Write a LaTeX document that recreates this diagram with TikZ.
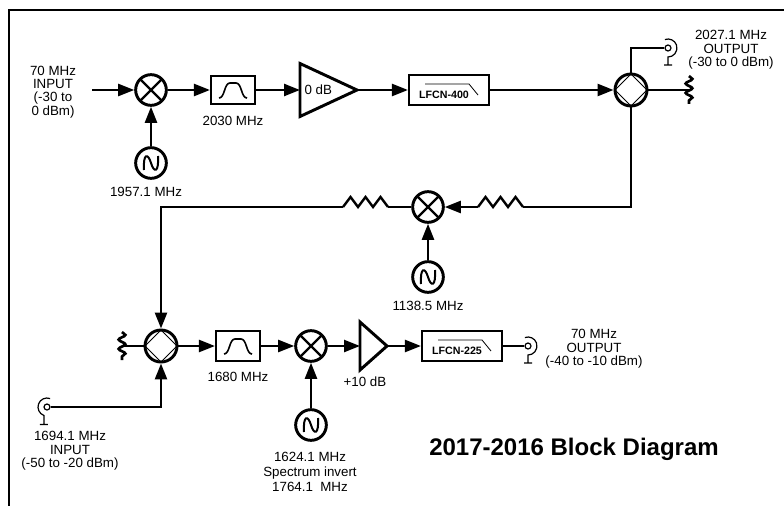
\documentclass[tikz,border=0pt]{standalone}
\usepackage{fontspec}
\setmainfont{Liberation Sans}
\usetikzlibrary{arrows.meta,shapes.geometric,decorations.pathmorphing,calc}

\tikzset{
	wire/.style={line width=1.8pt},
	sig/.style={wire, -{Triangle[length=12pt,width=9pt]}},
	mixer/.style={circle, draw, line width=2.2pt, minimum size=23pt, inner sep=0pt,
		path picture={\draw[line width=1.8pt] (path picture bounding box.north west) -- (path picture bounding box.south east)
			(path picture bounding box.north east) -- (path picture bounding box.south west);}},
	osc/.style={circle, draw, line width=2.2pt, minimum size=23pt, inner sep=0pt,
		path picture={\draw[line width=1.5pt, shift={(path picture bounding box.center)}]
			(-7,7) .. controls (-8,-10) and (-3,-10) .. (0,0) .. controls (3,10) and (8,10) .. (7,-7);}},
	combiner/.style={circle, draw, line width=2.2pt, minimum size=24pt, inner sep=0pt,
		path picture={\draw[line width=0.6pt] (path picture bounding box.north) -- (path picture bounding box.east)
			-- (path picture bounding box.south) -- (path picture bounding box.west) -- cycle;}},
	bandpass/.style={rectangle, draw, line width=1.6pt, minimum width=33pt, minimum height=21pt, inner sep=0pt,
		path picture={\draw[line width=1.2pt, shift={(path picture bounding box.center)}]
			(-14,8) .. controls (-8,8) and (-9,-7) .. (-3,-7) -- (3,-7) .. controls (9,-7) and (8,8) .. (14,8);}},
	lowpass/.style={rectangle, draw, line width=1.6pt, minimum width=60pt, minimum height=23pt, inner sep=0pt,
		path picture={\draw[line width=0.6pt, shift={(path picture bounding box.center)}] (-24,-6) -- (20,-6) -- (29,5);}},
	amp/.style={isosceles triangle, isosceles triangle stretches, draw, line width=2.2pt, inner sep=0pt, outer sep=0pt, anchor=lower side},
	jack/.style={circle, draw, line width=0.9pt, minimum size=4.5pt, inner sep=0pt},
	term/.style={line width=2pt, decorate, decoration={snake, amplitude=2.5pt, segment length=7pt}},
	lbl/.style={font=\fontsize{10}{10}\selectfont, align=center, inner sep=0pt},
	pn/.style={font=\fontsize{8}{9}\selectfont\bfseries, inner sep=0pt},
}

\begin{document}
\begin{tikzpicture}[x=0.75pt,y=-0.75pt]
	\useasboundingbox (0,0) rectangle (784,506);
	% frame
	\draw[line width=2.2pt] (9,506) -- (9,10) -- (784,10);
	
	%%%%% upper chain %%%%%
	\coordinate (in1) at (92,90);
	\node[lbl] (in1lbl) at (53,92) {70 MHz\\INPUT\\(-30 to\\0 dBm)};
	\node[mixer] (mx1) at (151,90) {};
	\node[osc] (lo1) at (151,163) {};
	\node[lbl] (lo1lbl) at (146,192) {1957.1 MHz};
	\node[bandpass] (bp1) at (233,90) {};
	\node[lbl] (bp1lbl) at (233,121) {2030 MHz};
	\node[amp, minimum width=39.75pt, minimum height=42.75pt] (amp1) at (300,90) {};
	\node[lbl] (amp1lbl) at ($(amp1.lower side)!0.32!(amp1.apex)$) {0 dB};
	\node[lowpass] (lp1) at (449,90) {};
	\node[pn] (lp1lbl) at ([shift={(-5,4.5)}]lp1.center) {LFCN-400};
	\node[combiner] (cmb1) at (631,90) {};
	\node[jack] (jk1) at (668,48) {};
	\node[lbl] (out1lbl) at (731,50) {2027.1 MHz\\OUTPUT\\(-30 to 0 dBm)};
	\coordinate (tm1) at (689,90);
	
	\draw[sig] (in1) -- (mx1);
	\draw[sig] (lo1) -- (mx1);
	\draw[sig] (mx1) -- (bp1);
	\draw[sig] (bp1) -- (amp1.lower side);
	\draw[sig] (amp1.apex) -- (lp1);
	\draw[sig] (lp1) -- (cmb1);
	\draw[wire] (cmb1) |- (jk1);
	\draw[line width=0.9pt] (jk1.center) ++(-110:9) arc (-110:90:9) -- ++(0,8) ++(-4,0) -- ++(8,0);
	\draw[wire] (cmb1) -- (tm1);
	\draw[term] ([yshift=10.5pt]tm1) -- ([yshift=-10.5pt]tm1);
	
	%%%%% middle mixer %%%%%
	\coordinate (rs2a) at (523,207);
	\coordinate (rs2b) at (478,207);
	\coordinate (rs1a) at (388,207);
	\coordinate (rs1b) at (343,207);
	\node[mixer] (mx2) at (428,207) {};
	\node[osc] (lo2) at (428,277) {};
	\node[lbl] (lo2lbl) at (428,306) {1138.5 MHz};
	
	\draw[wire] (cmb1) |- (rs2a);
	\draw[wire] (rs2a) \foreach \k in {1,2,3} { -- ++(-7.5,-10) -- ++(-7.5,10) };
	\draw[sig] (rs2b) -- (mx2);
	\draw[sig] (lo2) -- (mx2);
	\draw[wire] (mx2) -- (rs1a);
	\draw[wire] (rs1a) \foreach \k in {1,2,3} { -- ++(-7.5,-10) -- ++(-7.5,10) };
	
	%%%%% lower chain %%%%%
	\node[combiner] (cmb2) at (161,346) {};
	\coordinate (tm2) at (122,346);
	\node[jack] (jk2) at (47,407) {};
	\node[lbl] (in2lbl) at (70,451) {1694.1 MHz\\INPUT\\(-50 to -20 dBm)};
	\node[bandpass, minimum height=23pt] (bp2) at (238,346) {};
	\node[lbl] (bp2lbl) at (238,377) {1680 MHz};
	\node[mixer] (mx3) at (311,346) {};
	\node[osc] (lo3) at (311,425) {};
	\node[lbl, font=\fontsize{10}{11.5}\selectfont] (lo3lbl) at (310,472) {1624.1 MHz\\Spectrum invert\\1764.1\ \ MHz};
	\node[amp, minimum width=36pt, minimum height=20.25pt] (amp2) at (360,346) {};
	\node[lbl] (amp2lbl) at (365,382) {+10 dB};
	\node[lowpass] (lp2) at (462,346) {};
	\node[pn] (lp2lbl) at ([shift={(-5,5)}]lp2.center) {LFCN-225};
	\node[jack] (jk3) at (528,346) {};
	\node[lbl] (out2lbl) at (594,349) {70 MHz\\OUTPUT\\(-40 to -10 dBm)};
	
	\draw[sig] (rs1b) -| (cmb2);
	\draw[sig] (jk2) -| (cmb2);
	\draw[line width=0.9pt] (jk2.center) ++(-70:9) arc (-70:-250:9) -- ++(0,9) ++(-4,0) -- ++(8,0);
	\draw[wire] (cmb2) -- (tm2);
	\draw[term] ([yshift=10.5pt]tm2) -- ([yshift=-10.5pt]tm2);
	\draw[sig] (cmb2) -- (bp2);
	\draw[sig] (bp2) -- (mx3);
	\draw[sig] (lo3) -- (mx3);
	\draw[sig] (mx3) -- (amp2.lower side);
	\draw[sig] (amp2.apex) -- (lp2);
	\draw[wire] (lp2) -- (jk3);
	\draw[line width=0.9pt] (jk3.center) ++(-110:9) arc (-110:90:9) -- ++(0,8) ++(-4,0) -- ++(8,0);
	
	\node[font=\fontsize{18}{20}\selectfont\bfseries] (title) at (574,449) {2017-2016 Block Diagram};
\end{tikzpicture}
\end{document}
